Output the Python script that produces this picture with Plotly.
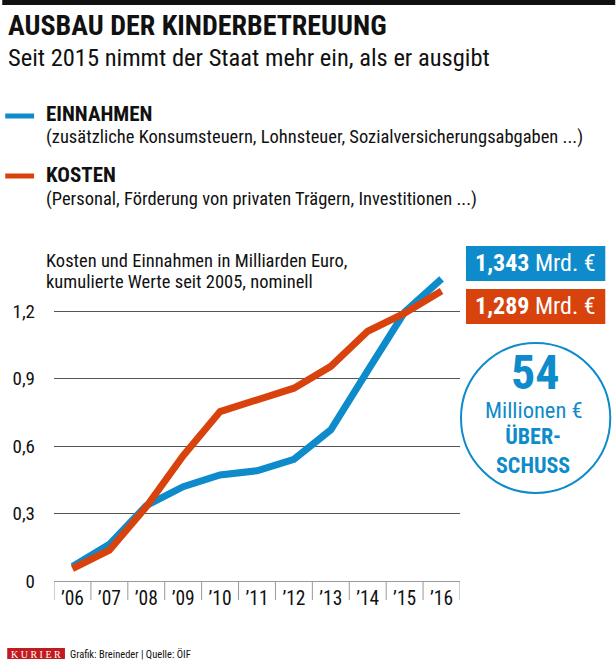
import plotly.graph_objects as go

# ---- data ----
years = ["’06", "’07", "’08", "’09", "’10", "’11", "’12", "’13", "’14", "’15", "’16"]
einnahmen = [0.065, 0.163, 0.335, 0.419, 0.471, 0.490, 0.541, 0.672, 0.935, 1.195, 1.343]
kosten = [0.055, 0.137, 0.330, 0.557, 0.753, 0.805, 0.857, 0.954, 1.110, 1.190, 1.289]
y_ticks = [0, 0.3, 0.6, 0.9, 1.2]
y_ticktext = ["0", "0,3", "0,6", "0,9", "1,2"]

BLUE = "#0e8bcb"
ORANGE = "#d8430d"
FONT = "Liberation Sans Narrow, Arial Narrow, Roboto Condensed, Roboto, sans-serif"

W, H = 616, 661
L, R, T, B = 52, 156, 266, 80
PW, PH = W - L - R, H - T - B


def px(x):
    return (x - L) / PW


def py(y):
    return (H - B - y) / PH


fig = go.Figure()
fig.add_trace(go.Scatter(x=years, y=einnahmen, mode="lines",
                         line=dict(color=BLUE, width=7), hoverinfo="skip"))
fig.add_trace(go.Scatter(x=years, y=kosten, mode="lines",
                         line=dict(color=ORANGE, width=7), hoverinfo="skip"))

shapes = []
# top black bar
shapes.append(dict(type="rect", xref="paper", yref="paper", x0=px(0), x1=px(W),
                   y0=py(0), y1=py(5), fillcolor="#111", line_width=0))
# legend lines
shapes.append(dict(type="line", xref="paper", yref="paper", x0=px(3), x1=px(32),
                   y0=py(116), y1=py(116), line=dict(color=BLUE, width=5)))
shapes.append(dict(type="line", xref="paper", yref="paper", x0=px(3), x1=px(32),
                   y0=py(176), y1=py(176), line=dict(color=ORANGE, width=5)))
# category boxes below axis
for i in range(len(years) + 1):
    shapes.append(dict(type="line", xref="x", yref="paper", x0=i - 0.5, x1=i - 0.5,
                       y0=0, y1=py(600), line=dict(color="#9a9a9a", width=1)))
# value boxes
shapes.append(dict(type="rect", xref="paper", yref="paper", x0=px(466), x1=px(606),
                   y0=py(281), y1=py(246), fillcolor=BLUE, line_width=0))
shapes.append(dict(type="rect", xref="paper", yref="paper", x0=px(466), x1=px(606),
                   y0=py(324), y1=py(289), fillcolor=ORANGE, line_width=0))
# circle
shapes.append(dict(type="circle", xref="paper", yref="paper", x0=px(461), x1=px(611),
                   y0=py(493), y1=py(343), line=dict(color=BLUE, width=2),
                   fillcolor="rgba(0,0,0,0)"))
# KURIER box
shapes.append(dict(type="rect", xref="paper", yref="paper", x0=px(5), x1=px(63),
                   y0=py(659), y1=py(648), fillcolor="#c11b1f", line_width=0))

ann = []


def text(x, y, s, size, color="#111", xanchor="left", bold=False, yanchor="middle",
         family=FONT, align="left"):
    ann.append(dict(xref="paper", yref="paper", x=px(x), y=py(y), text=s, showarrow=False,
                    xanchor=xanchor, yanchor=yanchor, align=align,
                    font=dict(family=family, size=size, color=color,
                              weight="bold" if bold else "normal")))


text(4, 25, "AUSBAU DER KINDERBETREUUNG", 28, bold=True)
text(4, 58, "Seit 2015 nimmt der Staat mehr ein, als er ausgibt", 24.5)
text(42, 114, "EINNAHMEN", 21, bold=True)
text(42, 137, "(zusätzliche Konsumsteuern, Lohnsteuer, Sozialversicherungsabgaben ...)", 18.5)
text(42, 175, "KOSTEN", 21, bold=True)
text(42, 199, "(Personal, Förderung von privaten Trägern, Investitionen ...)", 18.5)
text(42, 261, "Kosten und Einnahmen in Milliarden Euro,", 18.5)
text(42, 282, "kumulierte Werte seit 2005, nominell", 18.5)
text(536, 263, "<b>1,343</b> Mrd. €", 24, color="white", xanchor="center")
text(536, 306, "<b>1,289</b> Mrd. €", 24, color="white", xanchor="center")
text(536, 372, "54", 48, color=BLUE, xanchor="center", bold=True)
text(534, 410, "Millionen €", 22.5, color=BLUE, xanchor="center")
text(533, 451, "ÜBER-<br>SCHUSS", 22, color=BLUE, xanchor="center", bold=True,
     align="center")
text(34, 654, "K U R I E R", 10, color="white", xanchor="center",
     family="Liberation Serif, DejaVu Serif, serif")
text(66, 654, "Grafik: Breineder | Quelle: ÖIF", 10.5)

fig.update_layout(
    width=W, height=H,
    margin=dict(l=L, r=R, t=T, b=B, pad=0),
    paper_bgcolor="white", plot_bgcolor="white",
    showlegend=False,
    font=dict(family=FONT, color="#111"),
    shapes=shapes, annotations=ann,
    xaxis=dict(type="category", range=[-0.5, len(years) - 0.5], showgrid=False,
               showline=True, linecolor="#9a9a9a", linewidth=1, ticks="",
               tickfont=dict(size=19.5, color="#111"), fixedrange=True,
               ticklabelstandoff=0),
    yaxis=dict(range=[0, 1.4], tickvals=y_ticks, ticktext=y_ticktext,
               showgrid=True, gridcolor="#555", gridwidth=1, zeroline=False,
               showline=False, ticks="", ticklabelstandoff=18,
               tickfont=dict(size=19, color="#111"), fixedrange=True),
)

fig.write_html("out.html", config={"displayModeBar": False},
               post_script="document.body.style.margin='0';document.body.style.overflow='hidden';")
